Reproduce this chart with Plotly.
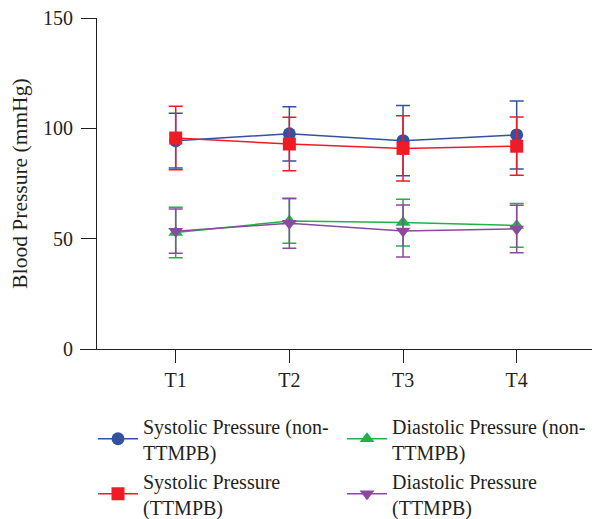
import plotly.graph_objects as go

timepoints = ["T1", "T2", "T3", "T4"]
x_pos = [1, 2, 3, 4]

sys_non_mean = [94.4, 97.5, 94.4, 97.0]
sys_non_sd = [12.4, 12.3, 15.9, 15.4]
sys_tt_mean = [95.6, 92.9, 90.9, 91.9]
sys_tt_sd = [14.4, 12.1, 14.8, 13.2]
dia_non_mean = [52.8, 58.0, 57.3, 56.0]
dia_non_sd = [11.4, 10.1, 10.6, 9.9]
dia_tt_mean = [53.4, 57.0, 53.5, 54.4]
dia_tt_sd = [10.0, 11.3, 11.8, 10.8]

y_ticks = [0, 50, 100, 150]

FONT = "Liberation Serif"
TXT = "#231F20"

series = [
    ("Systolic Pressure (non-<br>TTMPB)", sys_non_mean, sys_non_sd, "#3351A3", "circle", 1),
    ("Systolic Pressure<br>(TTMPB)", sys_tt_mean, sys_tt_sd, "#EE1C25", "square", 3),
    ("Diastolic Pressure (non-<br>TTMPB)", dia_non_mean, dia_non_sd, "#23B04B", "triangle-up", 2),
    ("Diastolic Pressure<br>(TTMPB)", dia_tt_mean, dia_tt_sd, "#8A4B9E", "triangle-down", 4),
]

fig = go.Figure()
for name, m, sd, col, sym, rank in series:
    fig.add_trace(go.Scatter(
        x=x_pos, y=m, name=name, mode="lines+markers",
        line=dict(color=col, width=1.5),
        marker=dict(symbol=sym, size=13, color=col),
        error_y=dict(type="data", array=sd, visible=True, color=col, thickness=1.5, width=7),
        legendrank=rank,
    ))

fig.update_layout(
    width=600, height=519,
    margin=dict(l=72, r=8, t=10, b=178, autoexpand=False),
    plot_bgcolor="white", paper_bgcolor="white",
    font=dict(family=FONT, size=20, color=TXT),
    showlegend=True,
    legend=dict(
        orientation="h", x=0.025, y=-0.173, xanchor="left", yanchor="top",
        entrywidth=194, entrywidthmode="pixels", itemwidth=40,
        font=dict(family=FONT, size=20, color=TXT), tracegroupgap=0,
        bgcolor="rgba(0,0,0,0)",
    ),
    xaxis=dict(
        range=[0.158, 4.733], tickvals=x_pos, ticktext=timepoints,
        showline=True, linecolor="#231F20", linewidth=1.2,
        ticks="outside", ticklen=13, tickcolor="#231F20", tickwidth=1.2,
        showgrid=False, zeroline=False, fixedrange=True,
        tickfont=dict(family=FONT, size=20, color=TXT),
    ),
    yaxis=dict(
        range=[0, 150], tickvals=y_ticks,
        anchor="free", position=0.031,
        showline=True, linecolor="#231F20", linewidth=1.2,
        ticks="outside", ticklen=15, tickcolor="#231F20", tickwidth=1.2,
        showgrid=False, zeroline=False, ticklabeloverflow="allow",
        ticklabelstandoff=4,
        tickfont=dict(family=FONT, size=20, color=TXT),
    ),
    annotations=[dict(
        text="Blood Pressure (mmHg)", textangle=-90,
        xref="paper", yref="paper", x=-0.117, y=0.5,
        xanchor="center", yanchor="middle", showarrow=False,
        font=dict(family=FONT, size=21.5, color=TXT),
    )],
)

fig.write_html("out.html")
